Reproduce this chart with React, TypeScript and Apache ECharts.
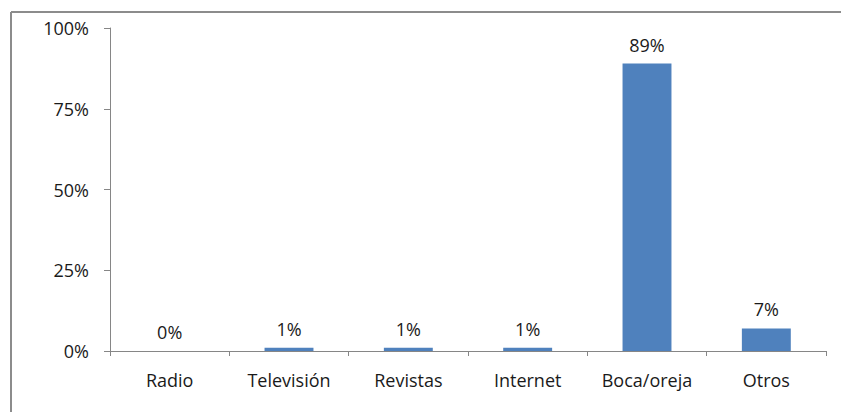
import React, { useEffect, useRef } from "react";
import * as echarts from "echarts";

const categories = ["Radio", "Televisión", "Revistas", "Internet", "Boca/oreja", "Otros"];
const values = [0, 1, 1, 1, 89, 7];
const yTicks = [0, 25, 50, 75, 100];

export default function App() {
  const ref = useRef<HTMLDivElement>(null);
  useEffect(() => {
    if (!ref.current) return;
    const chart = echarts.init(ref.current, undefined, { renderer: "svg" });
    const font = "'Open Sans', sans-serif";
    const fs = 18;
    chart.setOption({
      animation: false,
      backgroundColor: "#ffffff",
      graphic: [
        { type: "line", shape: { x1: 11, y1: 12, x2: 11, y2: 412 }, style: { stroke: "#8c8c8c", lineWidth: 2 } },
        { type: "line", shape: { x1: 11, y1: 12, x2: 841, y2: 12 }, style: { stroke: "#8c8c8c", lineWidth: 2 } },
      ],
      grid: { left: 110, right: 15, top: 28, bottom: 61, containLabel: false },
      xAxis: {
        type: "category",
        data: categories,
        axisLine: { lineStyle: { color: "#868686" } },
        axisTick: { show: true, length: 5, lineStyle: { color: "#868686" } },
        axisLabel: { color: "#1a1a1a", fontSize: fs, fontFamily: font, margin: 20 },
      },
      yAxis: {
        type: "value",
        min: yTicks[0],
        max: yTicks[yTicks.length - 1],
        interval: 25,
        axisLine: { show: true, lineStyle: { color: "#868686" } },
        axisTick: { show: true, length: 6, lineStyle: { color: "#868686" } },
        splitLine: { show: false },
        axisLabel: { color: "#1a1a1a", fontSize: fs, fontFamily: font, margin: 21, formatter: "{value}%" },
      },
      series: [
        {
          type: "bar",
          data: values,
          barWidth: "41%",
          itemStyle: { color: "#4F81BD" },
          label: {
            show: true,
            position: "top",
            distance: 10,
            formatter: "{c}%",
            color: "#1a1a1a",
            fontSize: fs,
            fontFamily: font,
          },
        },
      ],
    });
    return () => chart.dispose();
  }, []);
  return <div ref={ref} style={{ position: "fixed", left: 0, top: 0, width: 841, height: 412 }} />;
}
